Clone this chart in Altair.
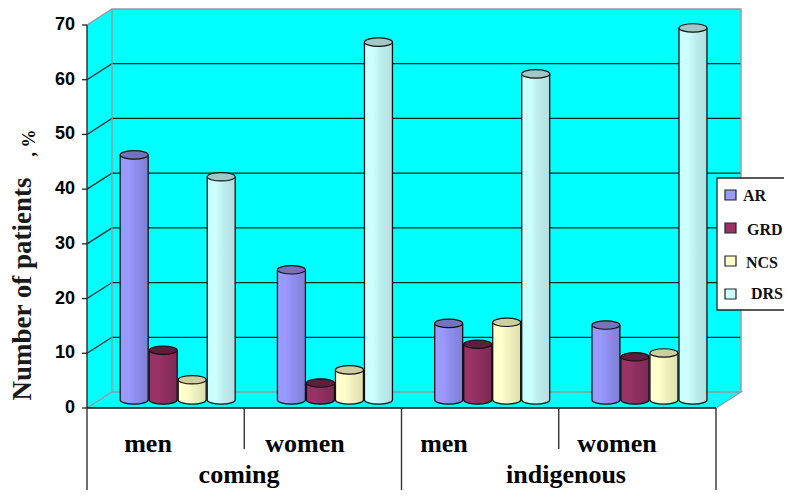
import altair as alt
import pandas as pd

groups = ["coming", "coming", "indigenous", "indigenous"]
sexes = ["men", "women", "men", "women"]
series = ["AR", "GRD", "NCS", "DRS"]
AR = [44.8, 23.8, 14.0, 13.7]
GRD = [9.1, 3.1, 10.2, 7.9]
NCS = [3.7, 5.5, 14.2, 8.6]
DRS = [40.8, 65.4, 59.6, 68.0]
values = [AR, GRD, NCS, DRS]
y_ticks = [0, 10, 20, 30, 40, 50, 60, 70]

base_col = ["#9999FF", "#993366", "#FFFFCC", "#CCFFFF"]
mid_col = ["#8E8EEE", "#8E2F5E", "#F2F2C0", "#BFEFEF"]
dark_col = ["#7F7FD2", "#7E2A55", "#DEDEB0", "#B2DEDE"]
top_col = ["#7474BE", "#5E1F3E", "#CDCDA2", "#A3C6C6"]

DX = 25 / 157.25
DY = 16 / 5.471
FONT = "Liberation Serif"
SANS = "Liberation Sans"
OUT = "#111111"

xs = alt.Scale(domain=[0, 4], range=[79, 708])
ys = alt.Scale(domain=[0, 70], range=[400, 17])
X = alt.X("x:Q", scale=xs, axis=None)
Y = alt.Y("y:Q", scale=ys, axis=None)
layers = []

# walls and floor
left = pd.DataFrame({"x": [0, DX], "y": [0, DY], "y2": [70, 70 + DY]})
layers.append(alt.Chart(left).mark_area(color="#00FFFF", opacity=1).encode(x=X, y=Y, y2="y2:Q"))
back = pd.DataFrame({"x": [DX], "x2": [4 + DX], "y": [DY], "y2": [70 + DY]})
layers.append(alt.Chart(back).mark_rect(color="#00FFFF").encode(x=X, y=Y, x2="x2:Q", y2="y2:Q"))
floor = pd.DataFrame({"x": [0, DX, 4, 4 + DX], "y": [0, 0, 0, DY], "y2": [0, DY, DY, DY]})
layers.append(alt.Chart(floor).mark_area(color="#00FFFF", opacity=1).encode(x=X, y=Y, y2="y2:Q"))

# grid lines
rows = []
for v in y_ticks[1:-1]:
    for k, (a, b) in enumerate([(0, v), (DX, v + DY), (4 + DX, v + DY)]):
        rows.append({"x": a, "y": b, "k": k, "v": v})
layers.append(alt.Chart(pd.DataFrame(rows)).mark_line(color="#062A2A", strokeWidth=1.3).encode(
    x=X, y=Y, detail="v:N", order="k:Q"))

# grey wall edges
edges = [
    [(0, 0), (DX, DY), (4 + DX, DY), (4, 0)],
    [(0, 70), (DX, 70 + DY), (4 + DX, 70 + DY), (4 + DX, DY)],
    [(DX, DY), (DX, 70 + DY)],
]
rows = []
for i, e in enumerate(edges):
    for k, (a, b) in enumerate(e):
        rows.append({"x": a, "y": b, "k": k, "e": i})
layers.append(alt.Chart(pd.DataFrame(rows)).mark_line(color="#999999", strokeWidth=1.4).encode(
    x=X, y=Y, detail="e:N", order="k:Q"))

# cylinders
BW = 28
top_shape = "M-1,0 A1,0.3 0 1,1 1,0 A1,0.3 0 1,1 -1,0 Z"
bottom_shape = "M-1,0 A1,0.3 0 0,0 1,0"
half = 0.089
for s, name in enumerate(series):
    df = pd.DataFrame({
        "x": [g + 0.30 + s * 0.1845 for g in range(4)],
        "v": values[s],
    })
    df["xl"] = df["x"] - half
    df["xr"] = df["x"] + half
    df["top"] = df["v"] + DY / 2
    df["base"] = DY / 2
    grad = alt.Gradient(gradient="linear", x1=0, x2=1, y1=0, y2=0, stops=[
        alt.GradientStop(color=base_col[s], offset=0),
        alt.GradientStop(color=base_col[s], offset=0.3),
        alt.GradientStop(color=mid_col[s], offset=0.55),
        alt.GradientStop(color=dark_col[s], offset=1),
    ])
    c = alt.Chart(df)
    XC = alt.X("x:Q", scale=xs, axis=None)
    XL = alt.X("xl:Q", scale=xs, axis=None)
    XR = alt.X("xr:Q", scale=xs, axis=None)
    YT = alt.Y("top:Q", scale=ys, axis=None)
    YB = alt.Y("base:Q", scale=ys, axis=None)
    layers.append(c.mark_bar(fill=grad).encode(x=XL, x2="xr:Q", y=YT, y2="base:Q"))
    layers.append(c.mark_point(shape=bottom_shape, size=BW * BW, filled=False, fill=grad, opacity=1,
                               stroke=OUT, strokeWidth=1.3).encode(x=XC, y=YB))
    layers.append(c.mark_rule(color=OUT, strokeWidth=1.3).encode(x=XL, y=YT, y2="base:Q"))
    layers.append(c.mark_rule(color=OUT, strokeWidth=1.3).encode(x=XR, y=YT, y2="base:Q"))
    layers.append(c.mark_point(shape=top_shape, size=BW * BW, filled=True, fill=top_col[s], opacity=1,
                               stroke=OUT, strokeWidth=1.2).encode(x=XC, y=YT))

# front axis lines
ax = pd.DataFrame({"x": [0], "y": [0], "y2": [70]})
layers.append(alt.Chart(ax).mark_rule(color="#333333", strokeWidth=1.5).encode(x=X, y=Y, y2="y2:Q"))
fl = pd.DataFrame({"x": [0], "x2": [4], "y": [0]})
layers.append(alt.Chart(fl).mark_rule(color="#111111", strokeWidth=1.5).encode(x=X, y=Y, x2="x2:Q"))

# y ticks and labels
ticks = pd.DataFrame({"y": y_ticks, "t": [str(v) for v in y_ticks]})
layers.append(alt.Chart(ticks).mark_rule(color="#222222", strokeWidth=1.3).encode(
    x=alt.value(74), x2=alt.value(79), y=Y))
layers.append(alt.Chart(ticks).mark_text(align="right", baseline="middle", font=SANS, fontWeight="bold",
                                         fontSize=18, color="#000000").encode(
    x=alt.value(67), y=Y, text="t:N"))

# category separators
tall = pd.DataFrame({"x": [0, 2, 4]})
short = pd.DataFrame({"x": [1, 3]})
layers.append(alt.Chart(tall).mark_rule(color="#333333", strokeWidth=1.4).encode(
    x=X, y=alt.value(400), y2=alt.value(482)))
layers.append(alt.Chart(short).mark_rule(color="#333333", strokeWidth=1.4).encode(
    x=X, y=alt.value(400), y2=alt.value(441)))

# category labels
cat = pd.DataFrame({"x": [0.388, 1.386, 2.27, 3.37], "t": sexes})
layers.append(alt.Chart(cat).mark_text(font=FONT, fontWeight="bold", fontSize=26, baseline="middle",
                                       color="#000000").encode(x=X, y=alt.value(436), text="t:N"))
grp = pd.DataFrame({"x": [0.967, 3.046], "t": [groups[0], groups[2]]})
layers.append(alt.Chart(grp).mark_text(font=FONT, fontWeight="bold", fontSize=26, baseline="alphabetic",
                                       color="#000000").encode(x=X, y=alt.value(475), text="t:N"))

# y title
layers.append(alt.Chart(pd.DataFrame({"t": ["Number of patients"]})).mark_text(
    font=FONT, fontWeight="bold", fontSize=27, angle=270, align="center", baseline="alphabetic",
    color="#1a1a1a").encode(x=alt.value(23), y=alt.value(281), text="t:N"))
layers.append(alt.Chart(pd.DataFrame({"t": [", %"]})).mark_text(
    font=FONT, fontWeight="bold", fontSize=18, angle=270, align="center", baseline="alphabetic",
    color="#000000").encode(x=alt.value(27), y=alt.value(135), text="t:N"))

# legend
box = pd.DataFrame({"a": [0]})
layers.append(alt.Chart(box).mark_rect(fill="#FFFFFF", stroke="#222222", strokeWidth=1.3).encode(
    x=alt.value(709), x2=alt.value(790), y=alt.value(170), y2=alt.value(302)))
sq_y = [187, 220, 253, 286]
lab_x = [735, 739, 738, 743]
lab_y = [188, 222, 255, 286]
for s, name in enumerate(series):
    d = pd.DataFrame({"t": [name]})
    layers.append(alt.Chart(d).mark_rect(fill=base_col[s], stroke="#222222", strokeWidth=1.2).encode(
        x=alt.value(717), x2=alt.value(728), y=alt.value(sq_y[s] - 5), y2=alt.value(sq_y[s] + 5)))
    layers.append(alt.Chart(d).mark_text(align="left", baseline="middle", font=FONT, fontWeight="bold",
                                         fontSize=16, color="#111111").encode(
        x=alt.value(lab_x[s]), y=alt.value(lab_y[s]), text="t:N"))

chart = alt.layer(*layers).properties(
    width=776, height=482, padding=0, autosize=alt.AutoSizeParams(type="none"), background="#FFFFFF"
).configure_view(stroke=None)
chart.save("out.html", embed_options={"renderer": "svg", "actions": False})
